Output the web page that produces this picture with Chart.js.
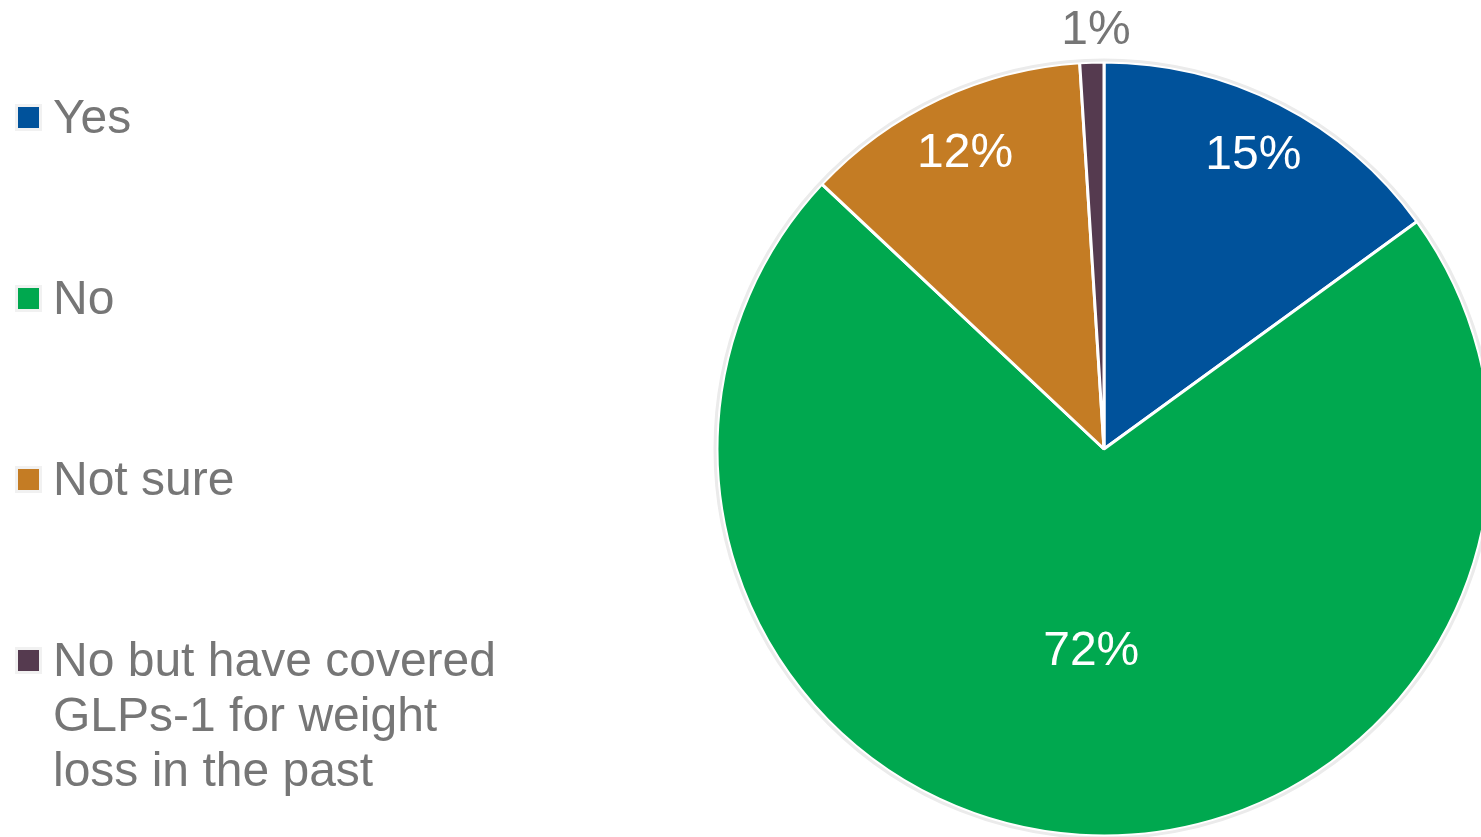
<!DOCTYPE html>
<html>
<head>
<meta charset="utf-8">
<script src="https://cdn.jsdelivr.net/npm/chart.js@4"></script>
<style>
  html, body { margin: 0; padding: 0; background: #fff; overflow: hidden; }
  #wrap { position: relative; width: 1481px; height: 837px; }
  #chart { position: absolute; left: 0; top: 0; }
  .item { position: absolute; left: 53px; width: 460px; font-family: "Liberation Sans", Arial, sans-serif;
          font-size: 48px; line-height: 55px; color: #767676; }
  .box { position: absolute; left: -35px; top: 18px; width: 21px; height: 21px; box-shadow: 0 0 0 3px #f1f1f1; }
</style>
</head>
<body>
<div id="wrap">
  <canvas id="chart" width="1481" height="837"></canvas>
  <div id="legend"></div>
</div>
<script>
// data
var labels = ['Yes', 'No', 'Not sure', 'No but have covered GLPs-1 for weight loss in the past'];
var values = [15, 72, 12, 1];
var colors = ['#00529B', '#00A84F', '#C47C24', '#553a4f'];
var pctLabels = ['15%', '72%', '12%', '1%'];

// legend rows
var legendTops = [89, 270, 451, 632];
var legend = document.getElementById('legend');
for (var i = 0; i < labels.length; i++) {
  var d = document.createElement('div');
  d.className = 'item';
  d.style.top = legendTops[i] + 'px';
  d.innerHTML = '<span class="box" style="background:' + colors[i] + '"></span>' + labels[i];
  legend.appendChild(d);
}

// where to put the % text, as part of the radius
var labelRadius = [0.85, 0.525, 0.843, 1.08];
var labelColor = ['#ffffff', '#ffffff', '#ffffff', '#767676'];

var pieLabels = {
  id: 'pieLabels',
  afterDatasetsDraw: function(chart) {
    var ctx = chart.ctx;
    var meta = chart.getDatasetMeta(0);
    var a0 = meta.data[0];
    // light outline round the pie
    ctx.save();
    ctx.beginPath();
    ctx.arc(a0.x, a0.y, a0.outerRadius + 2, 0, Math.PI * 2);
    ctx.strokeStyle = '#ebebeb';
    ctx.lineWidth = 3;
    ctx.stroke();
    ctx.font = '48px "Liberation Sans", Arial, sans-serif';
    ctx.textAlign = 'center';
    ctx.textBaseline = 'middle';
    meta.data.forEach(function(arc, i) {
      var mid = (arc.startAngle + arc.endAngle) / 2;
      var r = arc.outerRadius * labelRadius[i];
      ctx.fillStyle = labelColor[i];
      ctx.fillText(pctLabels[i], arc.x + Math.cos(mid) * r + (i == 3 ? 5 : 0), arc.y + Math.sin(mid) * r);
    });
    ctx.restore();
  }
};

new Chart(document.getElementById('chart'), {
  type: 'pie',
  data: {
    labels: labels,
    datasets: [{
      data: values,
      backgroundColor: colors,
      borderColor: '#ffffff',
      borderWidth: 3,
      clip: false
    }]
  },
  options: {
    responsive: false,
    animation: false,
    radius: 387,
    layout: { padding: { left: 727, right: 0, top: 61, bottom: 0 } },
    plugins: {
      legend: { display: false },
      tooltip: { enabled: false }
    }
  },
  plugins: [pieLabels]
});
</script>
</body>
</html>
